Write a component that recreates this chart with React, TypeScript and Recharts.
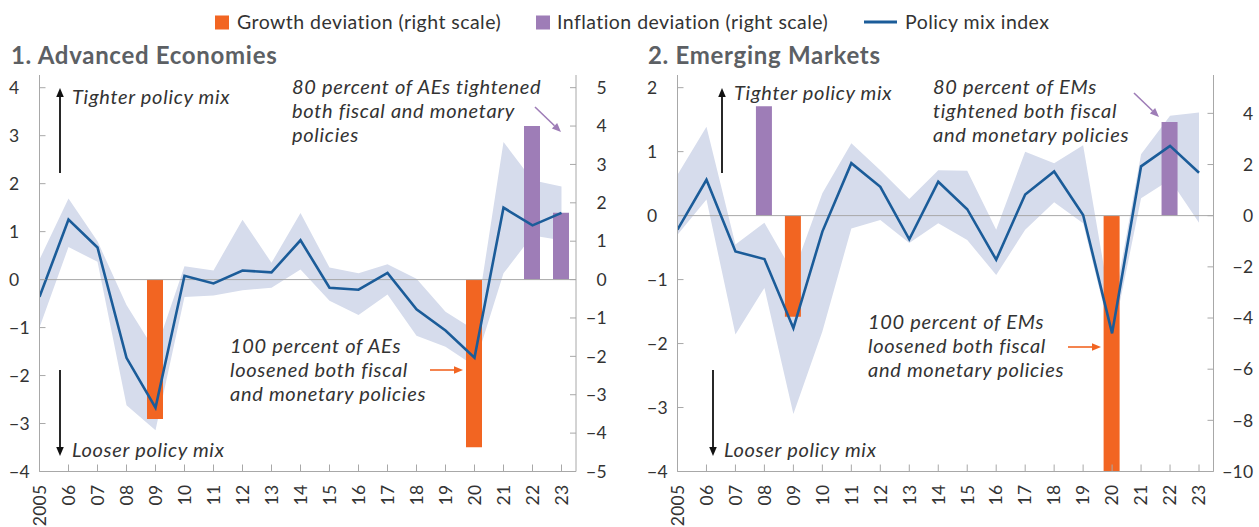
import React from "react";
import { ComposedChart, Area, Bar, Line, XAxis, YAxis, ReferenceLine } from "recharts";

// ---------- data ----------
const years = [2005, 2006, 2007, 2008, 2009, 2010, 2011, 2012, 2013, 2014, 2015, 2016, 2017, 2018, 2019, 2020, 2021, 2022, 2023];
const yearLabels = ["2005", "06", "07", "08", "09", "10", "11", "12", "13", "14", "15", "16", "17", "18", "19", "20", "21", "22", "23"];

// Advanced economies
const aePolicy = [-0.36, 1.25, 0.67, -1.63, -2.67, 0.08, -0.08, 0.19, 0.15, 0.82, -0.17, -0.21, 0.14, -0.62, -1.06, -1.63, 1.5, 1.13, 1.39];
const aeLow = [-1.0, 0.68, 0.37, -2.62, -3.14, -0.36, -0.33, -0.22, -0.17, 0.21, -0.44, -0.74, -0.31, -1.17, -1.4, -1.8, 0.13, 0.92, 0.82];
const aeHigh = [0.42, 1.69, 0.8, -0.53, -1.5, 0.28, 0.19, 1.25, 0.35, 1.39, 0.25, 0.13, 0.32, 0.02, -0.67, -1.05, 2.87, 2.07, 1.94];
const aeGrowth = [0, 0, 0, 0, -3.63, 0, 0, 0, 0, 0, 0, 0, 0, 0, 0, -4.37, 0, 0, 0];
const aeInflation = [0, 0, 0, 0, 0, 0, 0, 0, 0, 0, 0, 0, 0, 0, 0, 0, 0, 4.0, 1.74];

// Emerging markets
const emPolicy = [-0.22, 0.56, -0.56, -0.68, -1.76, -0.25, 0.82, 0.45, -0.37, 0.53, 0.1, -0.69, 0.33, 0.69, 0.01, -1.84, 0.77, 1.09, 0.67];
const emLow = [-0.3, 0.25, -1.86, -1.13, -3.1, -1.81, -0.2, -0.07, -0.43, -0.12, -0.38, -0.93, -0.22, 0.21, -0.12, -1.95, 0.27, 0.56, -0.11];
const emHigh = [0.64, 1.39, -0.45, -0.11, -0.9, 0.35, 1.13, 0.71, 0.26, 0.71, 0.7, -0.22, 1.0, 0.82, 1.1, -1.55, 0.96, 1.56, 1.61];
const emGrowth = [0, 0, 0, 0, -3.95, 0, 0, 0, 0, 0, 0, 0, 0, 0, 0, -10, 0, 0, 0];
const emInflation = [0, 0, 0, 4.28, 0, 0, 0, 0, 0, 0, 0, 0, 0, 0, 0, 0, 0, 3.66, 0];

const aeLeftTicks = [-4, -3, -2, -1, 0, 1, 2, 3, 4];
const aeRightTicks = [-5, -4, -3, -2, -1, 0, 1, 2, 3, 4, 5];
const emLeftTicks = [-4, -3, -2, -1, 0, 1, 2];
const emRightTicks = [-10, -8, -6, -4, -2, 0, 2, 4];

// ---------- style ----------
const FONT = "Lato, 'Open Sans', sans-serif";
const AXIS = "#A8A8A8";
const TEXT = "#333333";
const ORANGE = "#F26522";
const PURPLE = "#9E7DB7";
const BLUE = "#1B5C99";
const BAND = "#D6DCEC";
const TITLE = "#5C6064";

const fmt = (v: number) => (v < 0 ? "\u2212" + Math.abs(v) : String(v));

function buildRows(policy: number[], low: number[], high: number[], growth: number[], inflation: number[]) {
  return years.map((y, i) => ({
    year: y,
    policy: policy[i],
    band: [low[i], high[i]],
    growth: growth[i],
    inflation: inflation[i],
  }));
}

const aeRows = buildRows(aePolicy, aeLow, aeHigh, aeGrowth, aeInflation);
const emRows = buildRows(emPolicy, emLow, emHigh, emGrowth, emInflation);

const LeftTick = (props: any) => {
  const { x, y, payload } = props;
  return (
    <g>
      <line x1={x} y1={y} x2={x + 6} y2={y} stroke={AXIS} strokeWidth={1} />
      <text x={x - 30.5} y={y} dy="0.36em" textAnchor="start" fontSize={17.5} fill={TEXT} fontFamily={FONT} letterSpacing={0.3}>
        {fmt(payload.value)}
      </text>
    </g>
  );
};

const makeRightTick = (offset: number) => (props: any) => {
  const { x, y, payload } = props;
  return (
    <g>
      <line x1={x - 6} y1={y} x2={x} y2={y} stroke={AXIS} strokeWidth={1} />
      <text x={x + offset} y={y} dy="0.36em" textAnchor="end" fontSize={17.5} fill={TEXT} fontFamily={FONT} letterSpacing={0.3}>
        {fmt(payload.value)}
      </text>
    </g>
  );
};

const BottomTick = (props: any) => {
  const { x, y, payload } = props;
  const idx = years.indexOf(payload.value);
  const label = idx >= 0 ? yearLabels[idx] : "";
  const ty = y + 13;
  return (
    <g>
      <line x1={x} y1={y} x2={x} y2={y - 7} stroke={AXIS} strokeWidth={1} />
      <text
        x={x}
        y={ty}
        transform={`rotate(-90 ${x} ${ty})`}
        dy="0.36em"
        textAnchor="end"
        fontSize={17.5}
        fill={TEXT}
        fontFamily={FONT}
        letterSpacing={0.3}
      >
        {label}
      </text>
    </g>
  );
};

type PanelProps = {
  rows: any[];
  width: number;
  leftWidth: number;
  rightWidth: number;
  leftDomain: [number, number];
  rightDomain: [number, number];
  leftTicks: number[];
  rightTicks: number[];
  rightOffset: number;
};

function Panel(p: PanelProps) {
  const RightTick = makeRightTick(p.rightOffset);
  return (
    <ComposedChart width={p.width} height={527} data={p.rows} margin={{ top: 75, right: 0, bottom: 0, left: 0 }}>
      <XAxis
        dataKey="year"
        type="number"
        domain={[2005, 2023.5]}
        ticks={years}
        interval={0}
        height={55.5}
        stroke={AXIS}
        tickLine={false}
        tickSize={0}
        tickMargin={0}
        tick={<BottomTick />}
        allowDataOverflow
      />
      <YAxis
        yAxisId="left"
        orientation="left"
        type="number"
        domain={p.leftDomain}
        ticks={p.leftTicks}
        interval={0}
        width={p.leftWidth}
        stroke={AXIS}
        tickLine={false}
        tickSize={0}
        tickMargin={0}
        tick={<LeftTick />}
        allowDataOverflow
      />
      <YAxis
        yAxisId="right"
        orientation="right"
        type="number"
        domain={p.rightDomain}
        ticks={p.rightTicks}
        interval={0}
        width={p.rightWidth}
        stroke={AXIS}
        tickLine={false}
        tickSize={0}
        tickMargin={0}
        tick={<RightTick />}
        allowDataOverflow
      />
      <Area
        yAxisId="left"
        dataKey="band"
        type="linear"
        stroke="none"
        fill={BAND}
        fillOpacity={1}
        isAnimationActive={false}
        activeDot={false}
      />
      <ReferenceLine yAxisId="left" y={0} stroke={AXIS} strokeWidth={1} />
      <Bar yAxisId="right" dataKey="growth" stackId="s" fill={ORANGE} barSize={16} isAnimationActive={false} />
      <Bar yAxisId="right" dataKey="inflation" stackId="s" fill={PURPLE} barSize={16} isAnimationActive={false} />
      <Line
        yAxisId="left"
        dataKey="policy"
        type="linear"
        stroke={BLUE}
        strokeWidth={2.6}
        dot={false}
        activeDot={false}
        isAnimationActive={false}
      />
    </ComposedChart>
  );
}

const Arrow = ({ x1, y1, x2, y2, color, w = 1.8, head = 9 }: any) => {
  const ang = Math.atan2(y2 - y1, x2 - x1);
  const hx = x2 - head * Math.cos(ang);
  const hy = y2 - head * Math.sin(ang);
  const hw = head * 0.42;
  const px = -Math.sin(ang) * hw;
  const py = Math.cos(ang) * hw;
  return (
    <g>
      <line x1={x1} y1={y1} x2={hx} y2={hy} stroke={color} strokeWidth={w} />
      <polygon points={`${x2},${y2} ${hx + px},${hy + py} ${hx - px},${hy - py}`} fill={color} />
    </g>
  );
};

const Note = ({ x, y, lines, gap = 24 }: any) => (
  <text x={x} y={y} fontFamily={FONT} fontStyle="italic" fontSize={20} letterSpacing={0.7} fill={TEXT}>
    {lines.map((l: string, i: number) => (
      <tspan key={i} x={x} y={y + i * gap} dy="0.36em">
        {l}
      </tspan>
    ))}
  </text>
);

const LEG = { fontFamily: FONT, fontSize: 19.5, letterSpacing: 0.45, fill: TEXT } as const;
const TTL = { fontFamily: FONT, fontWeight: 700, fontSize: 24, letterSpacing: 0.7, fill: TITLE } as const;

export default function App() {
  return (
    <div style={{ position: "absolute", left: 0, top: 0, width: 1259, height: 527, background: "#fff", overflow: "hidden" }}>
      <div style={{ position: "absolute", left: 0, top: 0 }}>
        <Panel
          rows={aeRows}
          width={630}
          leftWidth={39.5}
          rightWidth={54}
          leftDomain={[-4, 4.265]}
          rightDomain={[-5, 5.33]}
          leftTicks={aeLeftTicks}
          rightTicks={aeRightTicks}
          rightOffset={31}
        />
      </div>
      <div style={{ position: "absolute", left: 630, top: 0 }}>
        <Panel
          rows={emRows}
          width={629}
          leftWidth={47.5}
          rightWidth={45.5}
          leftDomain={[-4, 2.198]}
          rightDomain={[-10, 5.5]}
          leftTicks={emLeftTicks}
          rightTicks={emRightTicks}
          rightOffset={40}
        />
      </div>
      <svg width={1259} height={527} style={{ position: "absolute", left: 0, top: 0, pointerEvents: "none" }}>
        {/* legend */}
        <rect x={215} y={15.5} width={14} height={14} fill={ORANGE} />
        <text x={237} y={22} dy="0.36em" {...LEG}>
          Growth deviation (right scale)
        </text>
        <rect x={536} y={15.5} width={14} height={14} fill={PURPLE} />
        <text x={557} y={22} dy="0.36em" {...LEG}>
          Inflation deviation (right scale)
        </text>
        <line x1={864} y1={22} x2={897} y2={22} stroke={BLUE} strokeWidth={3} />
        <text x={905} y={22} dy="0.36em" {...LEG}>
          Policy mix index
        </text>

        {/* titles */}
        <text x={11} y={55} dy="0.36em" {...TTL}>
          1. Advanced Economies
        </text>
        <text x={648} y={55} dy="0.36em" {...TTL}>
          2. Emerging Markets
        </text>

        {/* panel 1 annotations */}
        <Arrow x1={60} y1={173} x2={60} y2={88} color="#111" />
        <Note x={72} y={97} lines={["Tighter policy mix"]} />
        <Arrow x1={60} y1={370} x2={60} y2={456} color="#111" />
        <Note x={72} y={450} lines={["Looser policy mix"]} />
        <Note x={292} y={87} lines={["80 percent of AEs tightened", "both fiscal and monetary", "policies"]} />
        <Arrow x1={535} y1={107} x2={561} y2={132} color={PURPLE} w={1.6} />
        <Note x={230} y={346} lines={["100 percent of AEs", "loosened both fiscal", "and monetary policies"]} />
        <Arrow x1={430} y1={370} x2={463} y2={370} color={ORANGE} w={1.6} />

        {/* panel 2 annotations */}
        <Arrow x1={722} y1={173} x2={722} y2={88} color="#111" />
        <Note x={734} y={93} lines={["Tighter policy mix"]} />
        <Arrow x1={713} y1={370} x2={713} y2={456} color="#111" />
        <Note x={724} y={450} lines={["Looser policy mix"]} />
        <Note x={933} y={87} lines={["80 percent of EMs", "tightened both fiscal", "and monetary policies"]} />
        <Arrow x1={1134} y1={93} x2={1159} y2={117} color={PURPLE} w={1.6} />
        <Note x={868} y={322} lines={["100 percent of EMs", "loosened both fiscal", "and monetary policies"]} />
        <Arrow x1={1068} y1={347} x2={1101} y2={347} color={ORANGE} w={1.6} />
      </svg>
    </div>
  );
}
